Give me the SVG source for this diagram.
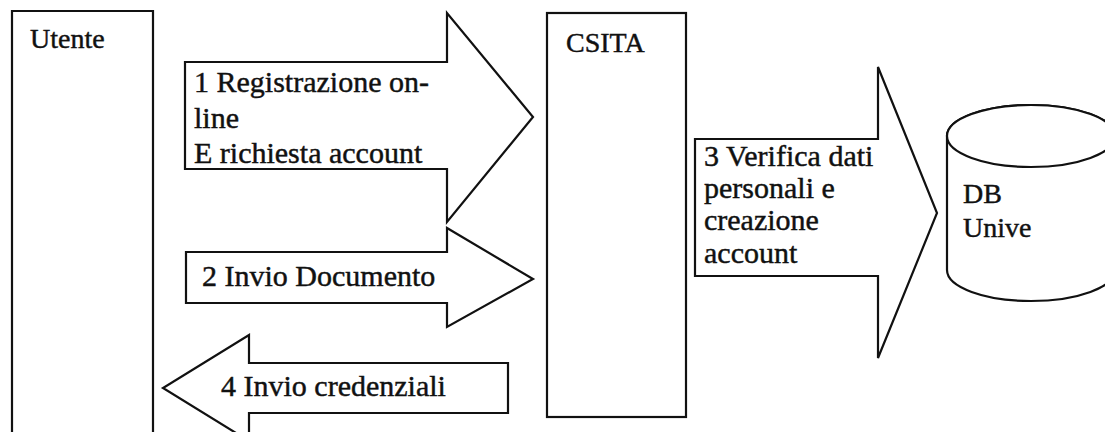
<svg xmlns="http://www.w3.org/2000/svg" width="1105" height="432" viewBox="0 0 1105 432">
<style>
.sh{fill:#fff;stroke:#111;stroke-width:2.2;stroke-linejoin:miter}
.t{font-family:"Liberation Serif","Times New Roman",serif;fill:#111;stroke:#111;stroke-width:0.45}
.lb{font-size:28px}
.at{font-size:30px}
</style>
<rect width="1105" height="432" fill="#fff"/>
<g id="utente">
<path class="sh" d="M12,440 L12,11 L153,11 L153,440"/>
<text class="t lb" x="30" y="48">Utente</text>
</g>
<g id="csita">
<rect class="sh" x="547" y="13" width="139" height="404"/>
<text class="t lb" x="566" y="52">CSITA</text>
</g>
<g id="db">
<path class="sh" d="M947,136 L947,270 A84,31 0 0 0 1115,270 L1115,136 A84,31 0 0 0 947,136 Z"/>
<ellipse class="sh" cx="1031" cy="136" rx="84" ry="31"/>
<text class="t lb" x="963" y="203">DB</text>
<text class="t lb" x="963" y="237">Unive</text>
</g>
<g id="connectors">
<g id="arrow1">
<path class="sh" d="M185,62 L447,62 L447,13 L533,117 L447,222 L447,169 L185,169 Z"/>
<text class="t at" x="194" y="92">1 Registrazione on-</text>
<text class="t at" x="194" y="128">line</text>
<text class="t at" x="194" y="163">E richiesta account</text>
</g>
<g id="arrow2">
<path class="sh" d="M186,252 L447,252 L447,228 L533,279 L447,327 L447,303 L186,303 Z"/>
<text class="t at" x="202" y="286">2 Invio Documento</text>
</g>
<g id="arrow3">
<path class="sh" d="M695,139 L878,139 L878,67 L937,213 L878,358 L878,276 L695,276 Z"/>
<text class="t at" x="704" y="166">3 Verifica dati</text>
<text class="t at" x="704" y="198">personali e</text>
<text class="t at" x="704" y="230">creazione</text>
<text class="t at" x="704" y="263">account</text>
</g>
<g id="arrow4">
<path class="sh" d="M508,363 L249,363 L249,335 L163,388 L249,441 L249,413 L508,413 Z"/>
<text class="t at" x="221" y="396">4 Invio credenziali</text>
</g>
</g>
</svg>
